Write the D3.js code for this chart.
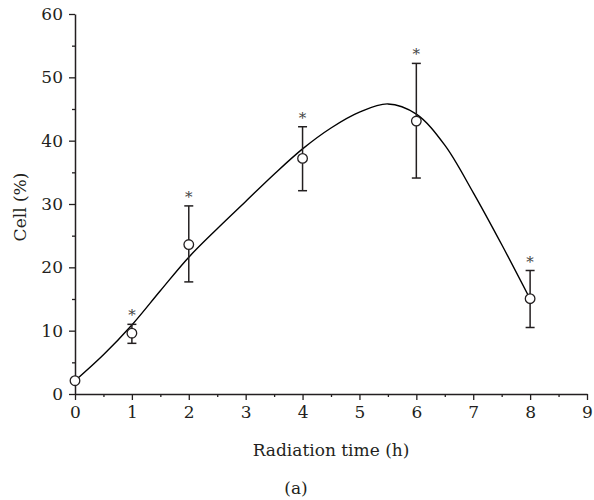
<!DOCTYPE html>
<html>
<head>
<meta charset="utf-8">
<script src="https://cdn.jsdelivr.net/npm/d3@7"></script>
<style>
  body { margin: 0; background: #fff; }
  svg text { font-family: "DejaVu Serif", "Liberation Serif", serif; fill: #231f20; }
</style>
</head>
<body>
<div id="chart"></div>
<script>
// measured points (mean, error bar low/high)
var times = [0, 1, 2, 4, 6, 8];
var cellMean = [2.1, 9.6, 23.6, 37.2, 43.1, 15.05];
var errLow = [2.1, 8.0, 17.7, 32.1, 34.1, 10.5];
var errHigh = [2.1, 11.0, 29.7, 42.2, 52.2, 19.5];
var starred = [false, true, true, true, true, true];

// fitted curve
var curveX = [0, 0.5, 1, 1.5, 2, 2.5, 3, 3.5, 4, 4.5, 5, 5.5, 6, 6.5, 7, 7.5, 8];
var curveY = [2.1, 6.2, 10.9, 16.3, 21.6, 26.1, 30.4, 34.7, 38.7, 42.0, 44.5, 45.8, 44.2, 39.3, 31.8, 23.6, 15.0];

var xTicks = [0, 1, 2, 3, 4, 5, 6, 7, 8, 9];
var yTicks = [0, 10, 20, 30, 40, 50, 60];

var width = 594, height = 500;
var margin = { left: 75, right: 7, top: 14, bottom: 106 };
var fontSize = "17px";

var svg = d3.select("#chart").append("svg")
  .attr("width", width)
  .attr("height", height);

var x = d3.scaleLinear().domain([0, 9]).range([margin.left, width - margin.right]);
var y = d3.scaleLinear().domain([0, 60]).range([height - margin.bottom, margin.top]);

var y0 = y(0);

// minor ticks
svg.append("g")
  .attr("transform", "translate(0," + y0 + ")")
  .call(d3.axisBottom(x).tickValues(d3.range(0.5, 9, 1)).tickSize(3).tickFormat(""))
  .call(function (g) { g.select(".domain").remove(); })
  .selectAll("line").attr("stroke", "#231f20").attr("stroke-width", 1.3);

svg.append("g")
  .attr("transform", "translate(" + x(0) + ",0)")
  .call(d3.axisLeft(y).tickValues(d3.range(5, 60, 10)).tickSize(3).tickFormat(""))
  .call(function (g) { g.select(".domain").remove(); })
  .selectAll("line").attr("stroke", "#231f20").attr("stroke-width", 1.3);

// main axes
var xAxis = svg.append("g")
  .attr("transform", "translate(0," + y0 + ")")
  .call(d3.axisBottom(x).tickValues(xTicks).tickSize(6).tickSizeOuter(0).tickPadding(6));

var yAxis = svg.append("g")
  .attr("transform", "translate(" + x(0) + ",0)")
  .call(d3.axisLeft(y).tickValues(yTicks).tickSize(6).tickSizeOuter(0).tickPadding(6));

[xAxis, yAxis].forEach(function (g) {
  g.attr("font-family", null).attr("font-size", null);
  g.select(".domain").attr("stroke", "#231f20").attr("stroke-width", 1.5);
  g.selectAll("line").attr("stroke", "#231f20").attr("stroke-width", 1.3);
  g.selectAll("text").style("font-size", fontSize).attr("fill", "#231f20");
});

// axis titles
svg.append("text")
  .attr("x", x(4.5))
  .attr("y", 456)
  .attr("text-anchor", "middle")
  .style("font-size", fontSize)
  .text("Radiation time (h)");

svg.append("text")
  .attr("transform", "translate(26,207) rotate(-90)")
  .attr("text-anchor", "middle")
  .style("font-size", fontSize)
  .text("Cell (%)");

svg.append("text")
  .attr("x", x(4.5) - 35)
  .attr("y", 494)
  .attr("text-anchor", "middle")
  .style("font-size", fontSize)
  .text("(a)");

// fitted curve
var curveData = curveX.map(function (d, i) { return [d, curveY[i]]; });
var line = d3.line()
  .x(function (d) { return x(d[0]); })
  .y(function (d) { return y(d[1]); })
  .curve(d3.curveCatmullRom.alpha(0.5));

svg.append("path")
  .datum(curveData)
  .attr("d", line)
  .attr("fill", "none")
  .attr("stroke", "#000")
  .attr("stroke-width", 1.4);

// error bars
var pts = times.map(function (t, i) {
  return { t: t, m: cellMean[i], lo: errLow[i], hi: errHigh[i], star: starred[i] };
});

var bars = svg.append("g").selectAll("g")
  .data(pts.filter(function (d) { return d.hi > d.lo; }))
  .enter().append("g");

bars.append("line")
  .attr("x1", function (d) { return x(d.t); })
  .attr("x2", function (d) { return x(d.t); })
  .attr("y1", function (d) { return y(d.lo); })
  .attr("y2", function (d) { return y(d.hi); })
  .attr("stroke", "#231f20").attr("stroke-width", 1.5);

bars.append("line")
  .attr("x1", function (d) { return x(d.t) - 4.5; })
  .attr("x2", function (d) { return x(d.t) + 4.5; })
  .attr("y1", function (d) { return y(d.hi); })
  .attr("y2", function (d) { return y(d.hi); })
  .attr("stroke", "#231f20").attr("stroke-width", 1.5);

bars.append("line")
  .attr("x1", function (d) { return x(d.t) - 4.5; })
  .attr("x2", function (d) { return x(d.t) + 4.5; })
  .attr("y1", function (d) { return y(d.lo); })
  .attr("y2", function (d) { return y(d.lo); })
  .attr("stroke", "#231f20").attr("stroke-width", 1.5);

// points
svg.append("g").selectAll("circle")
  .data(pts)
  .enter().append("circle")
  .attr("cx", function (d) { return x(d.t); })
  .attr("cy", function (d) { return y(d.m); })
  .attr("r", 4.8)
  .attr("fill", "#fff")
  .attr("stroke", "#231f20")
  .attr("stroke-width", 1.3);

// significance stars
svg.append("g").selectAll("text")
  .data(pts.filter(function (d) { return d.star; }))
  .enter().append("text")
  .attr("x", function (d) { return x(d.t); })
  .attr("y", function (d) { return y(d.hi) - 4; })
  .attr("text-anchor", "middle")
  .style("font-size", "15px")
  .style("fill", "#444")
  .text("*");
</script>
</body>
</html>
